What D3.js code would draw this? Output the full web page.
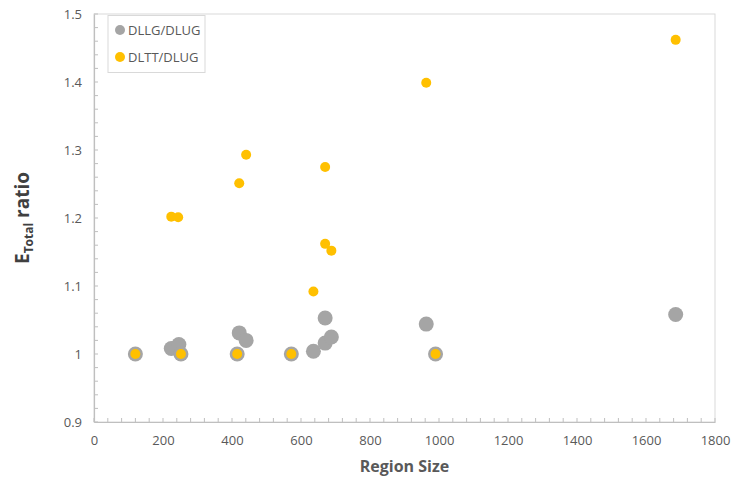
<!DOCTYPE html>
<html><head><meta charset="utf-8">
<script src="https://cdn.jsdelivr.net/npm/d3@7"></script>
<style>body{margin:0;background:#fff}svg{display:block}</style>
</head><body>
<script>
// Data
const seriesNames = ["DLLG/DLUG", "DLTT/DLUG"];
const dllgX = [120, 224, 246, 252, 415, 421, 441, 572, 636, 670, 670, 688, 963, 990, 1686];
const dllgY = [1.000, 1.008, 1.014, 1.000, 1.000, 1.031, 1.020, 1.000, 1.004, 1.053, 1.016, 1.025, 1.044, 1.000, 1.058];
const dlttX = [120, 252, 415, 572, 990, 224, 244, 421, 441, 636, 670, 670, 688, 963, 1686];
const dlttY = [1.000, 1.000, 1.000, 1.000, 1.000, 1.202, 1.201, 1.251, 1.293, 1.092, 1.275, 1.162, 1.152, 1.399, 1.462];
const xTicks = [0, 200, 400, 600, 800, 1000, 1200, 1400, 1600, 1800];
const yTicks = [0.9, 1, 1.1, 1.2, 1.3, 1.4, 1.5];

const W = 734, H = 488;
const m = {l: 94, r: 19, t: 14, b: 66};
const svg = d3.select("body").append("svg").attr("width", W).attr("height", H);
const x = d3.scaleLinear().domain([0, 1800]).range([m.l, W - m.r]);
const y = d3.scaleLinear().domain([0.9, 1.5]).range([H - m.b, m.t]);
const font = "'Open Sans', 'Liberation Sans', sans-serif";

// frame
svg.append("rect").attr("x", x(0)).attr("y", y(1.5)).attr("width", x(1800) - x(0)).attr("height", y(0.9) - y(1.5))
  .attr("fill", "none").attr("stroke", "#d9d9d9").attr("stroke-width", 1);

// axes
const xAxis = d3.axisBottom(x).tickValues(xTicks).tickSize(0).tickPadding(14).tickFormat(d3.format("d"));
const gx = svg.append("g").attr("transform", `translate(0,${y(0.9)})`).call(xAxis);
const yAxis = d3.axisLeft(y).tickValues(yTicks).tickSize(0).tickPadding(12).tickFormat(d => d === 1 ? "1" : d3.format(".1f")(d));
const gy = svg.append("g").attr("transform", `translate(${x(0)},0)`).call(yAxis);
[gx, gy].forEach(g => {
  g.select(".domain").attr("stroke", "#bfbfbf").attr("stroke-width", 1.2);
  g.selectAll("text").attr("fill", "#595959").style("font-family", font).style("font-size", "13px");
});
// minor ticks (inside)
const xMinor = d3.range(0, 1801, 40);
svg.append("g").selectAll("line").data(xMinor).join("line")
  .attr("x1", d => x(d)).attr("x2", d => x(d)).attr("y1", y(0.9)).attr("y2", y(0.9) - 4)
  .attr("stroke", "#bfbfbf");
const yMinor = d3.range(0, 31).map(i => 0.9 + i * 0.02);
svg.append("g").selectAll("line").data(yMinor).join("line")
  .attr("x1", x(0)).attr("x2", x(0) + 4).attr("y1", d => y(d)).attr("y2", d => y(d))
  .attr("stroke", "#bfbfbf");

// points
const gray = "#a5a5a5", gold = "#ffc000";
svg.append("g").selectAll("circle").data(dllgX.map((d, i) => [d, dllgY[i]])).join("circle")
  .attr("cx", d => x(d[0])).attr("cy", d => y(d[1])).attr("r", 7.5).attr("fill", gray);
svg.append("g").selectAll("circle").data(dlttX.map((d, i) => [d, dlttY[i]])).join("circle")
  .attr("cx", d => x(d[0])).attr("cy", d => y(d[1])).attr("r", 5).attr("fill", gold);

// axis titles
svg.append("text").attr("x", (x(0) + x(1800)) / 2).attr("y", 472).attr("text-anchor", "middle")
  .attr("fill", "#595959").style("font-family", font).style("font-weight", "bold").style("font-size", "16px")
  .text("Region Size");
const yt = svg.append("text").attr("transform", `translate(29,${(y(0.9) + y(1.5)) / 2}) rotate(-90)`)
  .attr("text-anchor", "middle").attr("fill", "#404040").style("font-family", font)
  .style("font-weight", "bold").style("font-size", "19px");
yt.append("tspan").text("E");
yt.append("tspan").attr("dy", 4).style("font-size", "12px").text("Total");
yt.append("tspan").attr("dy", -4).text(" ratio");

// legend
const lg = svg.append("g");
lg.append("rect").attr("x", 108).attr("y", 15.5).attr("width", 97).attr("height", 57)
  .attr("fill", "#fff").attr("stroke", "#d9d9d9");
[[gray, seriesNames[0], 30], [gold, seriesNames[1], 57]].forEach(([c, t, yy]) => {
  lg.append("circle").attr("cx", 120).attr("cy", yy).attr("r", 5).attr("fill", c);
  lg.append("text").attr("x", 128).attr("y", yy + 4.5).attr("fill", "#595959")
    .style("font-family", font).style("font-size", "13px").text(t);
});
</script>
</body></html>
